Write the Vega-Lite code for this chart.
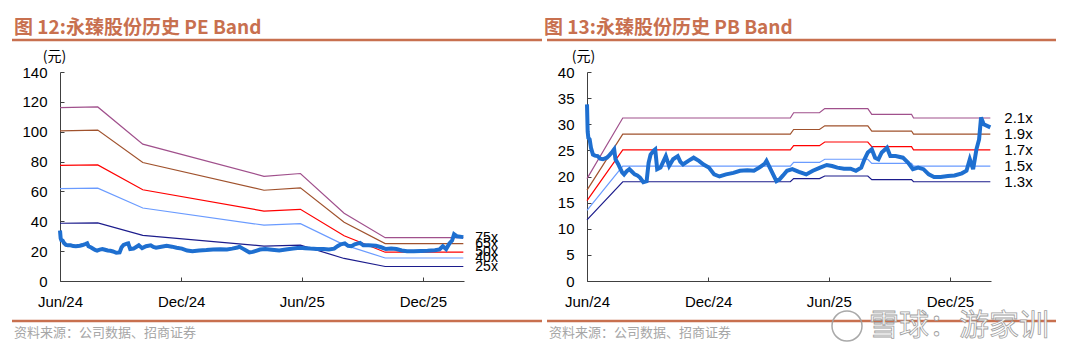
{
"$schema": "https://vega.github.io/schema/vega-lite/v6.json",
"padding": {"left": 10, "top": 18, "right": 0, "bottom": 0},
"spacing": 0,
"config": {
  "view": {"stroke": null},
  "font": "Liberation Sans",
  "axis": {"grid": false, "domainColor": "#404040", "tickColor": "#404040", "labelColor": "#000000", "labelFontSize": 15, "labelFont": "Liberation Sans", "domainWidth": 1, "tickWidth": 1, "labelOverlap": false}
},
"datasets": {
  "price": [
    {"date": "2024/06/01", "value": 33.8}, {"date": "2024/06/02", "value": 28.6}, {"date": "2024/06/03", "value": 27.4},
    {"date": "2024/06/05", "value": 27.1}, {"date": "2024/06/07", "value": 25.5}, {"date": "2024/06/10", "value": 24.2},
    {"date": "2024/06/13", "value": 24.0}, {"date": "2024/06/17", "value": 23.9}, {"date": "2024/06/21", "value": 23.4},
    {"date": "2024/06/25", "value": 23.3}, {"date": "2024/07/01", "value": 23.6}, {"date": "2024/07/05", "value": 24.1},
    {"date": "2024/07/09", "value": 24.7}, {"date": "2024/07/12", "value": 25.2}, {"date": "2024/07/14", "value": 23.3},
    {"date": "2024/07/18", "value": 22.4}, {"date": "2024/07/21", "value": 21.6}, {"date": "2024/07/24", "value": 20.8},
    {"date": "2024/07/27", "value": 20.4}, {"date": "2024/07/31", "value": 21.0}, {"date": "2024/08/04", "value": 21.4},
    {"date": "2024/08/08", "value": 20.9}, {"date": "2024/08/12", "value": 20.4}, {"date": "2024/08/16", "value": 20.2},
    {"date": "2024/08/20", "value": 19.8}, {"date": "2024/08/25", "value": 18.9}, {"date": "2024/08/30", "value": 19.1},
    {"date": "2024/09/02", "value": 22.6}, {"date": "2024/09/05", "value": 24.2}, {"date": "2024/09/10", "value": 25.0},
    {"date": "2024/09/12", "value": 25.2}, {"date": "2024/09/15", "value": 21.4}, {"date": "2024/09/20", "value": 21.7},
    {"date": "2024/09/24", "value": 22.8}, {"date": "2024/09/28", "value": 23.9}, {"date": "2024/10/03", "value": 22.0},
    {"date": "2024/10/09", "value": 23.3}, {"date": "2024/10/16", "value": 23.9}, {"date": "2024/10/20", "value": 22.8},
    {"date": "2024/10/24", "value": 22.3}, {"date": "2024/11/01", "value": 23.0}, {"date": "2024/11/09", "value": 23.6},
    {"date": "2024/11/17", "value": 23.0}, {"date": "2024/11/24", "value": 22.3}, {"date": "2024/12/02", "value": 21.7},
    {"date": "2024/12/10", "value": 20.4}, {"date": "2024/12/18", "value": 20.0}, {"date": "2024/12/28", "value": 20.4},
    {"date": "2025/01/08", "value": 20.7}, {"date": "2025/01/18", "value": 21.1}, {"date": "2025/01/29", "value": 21.2},
    {"date": "2025/02/08", "value": 21.1}, {"date": "2025/02/16", "value": 21.7}, {"date": "2025/02/24", "value": 22.4},
    {"date": "2025/02/27", "value": 23.0}, {"date": "2025/03/04", "value": 21.7}, {"date": "2025/03/09", "value": 20.4},
    {"date": "2025/03/14", "value": 19.1}, {"date": "2025/03/19", "value": 19.5}, {"date": "2025/03/24", "value": 20.2},
    {"date": "2025/03/30", "value": 21.1}, {"date": "2025/04/07", "value": 21.4}, {"date": "2025/04/17", "value": 20.9},
    {"date": "2025/04/28", "value": 20.4}, {"date": "2025/05/08", "value": 21.1}, {"date": "2025/05/19", "value": 21.7},
    {"date": "2025/05/29", "value": 22.2}, {"date": "2025/06/06", "value": 22.0}, {"date": "2025/06/14", "value": 21.7},
    {"date": "2025/06/24", "value": 21.5}, {"date": "2025/07/04", "value": 21.5}, {"date": "2025/07/12", "value": 21.1},
    {"date": "2025/07/20", "value": 21.7}, {"date": "2025/07/25", "value": 23.3}, {"date": "2025/07/30", "value": 24.6},
    {"date": "2025/08/05", "value": 25.2}, {"date": "2025/08/10", "value": 23.6}, {"date": "2025/08/15", "value": 23.3},
    {"date": "2025/08/20", "value": 24.6}, {"date": "2025/08/28", "value": 25.5}, {"date": "2025/09/02", "value": 23.9},
    {"date": "2025/09/10", "value": 23.9}, {"date": "2025/09/21", "value": 23.6}, {"date": "2025/09/29", "value": 22.6},
    {"date": "2025/10/06", "value": 21.4}, {"date": "2025/10/14", "value": 21.7}, {"date": "2025/10/22", "value": 21.4},
    {"date": "2025/10/30", "value": 20.4}, {"date": "2025/11/07", "value": 19.9}, {"date": "2025/11/17", "value": 19.9},
    {"date": "2025/11/28", "value": 20.1}, {"date": "2025/12/08", "value": 20.2}, {"date": "2025/12/19", "value": 20.6},
    {"date": "2025/12/26", "value": 21.1}, {"date": "2025/12/31", "value": 23.3}, {"date": "2026/01/05", "value": 21.4},
    {"date": "2026/01/10", "value": 25.2}, {"date": "2026/01/14", "value": 27.1}, {"date": "2026/01/17", "value": 31.3},
    {"date": "2026/01/21", "value": 30.0}, {"date": "2026/01/31", "value": 29.4}
  ]
},
"hconcat": [
  {
    "width": 404, "height": 209,
    "title": {"text": "图 12:永臻股份历史 PE Band", "anchor": "start", "frame": "group", "dx": -46, "offset": 1, "font": "Noto Sans CJK SC", "fontSize": 19, "fontWeight": "bold", "color": "#C8704F"},
    "layer": [
      {
        "data": {"values": [
          {"date": "2024/06/01", "band": "75x", "value": 116.1}, {"date": "2024/07/28", "band": "75x", "value": 116.6}, {"date": "2024/10/04", "band": "75x", "value": 91.7}, {"date": "2025/04/05", "band": "75x", "value": 70.1}, {"date": "2025/05/30", "band": "75x", "value": 72.0}, {"date": "2025/08/04", "band": "75x", "value": 45.4}, {"date": "2025/10/05", "band": "75x", "value": 29.0}, {"date": "2026/01/31", "band": "75x", "value": 29.0},
          {"date": "2024/06/01", "band": "65x", "value": 100.6}, {"date": "2024/07/28", "band": "65x", "value": 101.1}, {"date": "2024/10/04", "band": "65x", "value": 79.4}, {"date": "2025/04/05", "band": "65x", "value": 60.8}, {"date": "2025/05/30", "band": "65x", "value": 62.4}, {"date": "2025/08/04", "band": "65x", "value": 39.3}, {"date": "2025/10/05", "band": "65x", "value": 25.1}, {"date": "2026/01/31", "band": "65x", "value": 25.1},
          {"date": "2024/06/01", "band": "50x", "value": 77.4}, {"date": "2024/07/28", "band": "50x", "value": 77.8}, {"date": "2024/10/04", "band": "50x", "value": 61.1}, {"date": "2025/04/05", "band": "50x", "value": 46.8}, {"date": "2025/05/30", "band": "50x", "value": 48.0}, {"date": "2025/08/04", "band": "50x", "value": 30.3}, {"date": "2025/10/05", "band": "50x", "value": 19.3}, {"date": "2026/01/31", "band": "50x", "value": 19.3},
          {"date": "2024/06/01", "band": "40x", "value": 61.9}, {"date": "2024/07/28", "band": "40x", "value": 62.2}, {"date": "2024/10/04", "band": "40x", "value": 48.9}, {"date": "2025/04/05", "band": "40x", "value": 37.4}, {"date": "2025/05/30", "band": "40x", "value": 38.4}, {"date": "2025/08/04", "band": "40x", "value": 24.2}, {"date": "2025/10/05", "band": "40x", "value": 15.4}, {"date": "2026/01/31", "band": "40x", "value": 15.4},
          {"date": "2024/06/01", "band": "25x", "value": 38.7}, {"date": "2024/07/28", "band": "25x", "value": 38.9}, {"date": "2024/10/04", "band": "25x", "value": 30.6}, {"date": "2025/04/05", "band": "25x", "value": 23.4}, {"date": "2025/05/30", "band": "25x", "value": 24.0}, {"date": "2025/08/04", "band": "25x", "value": 15.1}, {"date": "2025/10/05", "band": "25x", "value": 9.7}, {"date": "2026/01/31", "band": "25x", "value": 9.7}
        ]},
        "mark": {"type": "line", "strokeWidth": 1.2},
        "encoding": {
          "x": {"field": "date", "type": "temporal",
                "scale": {"domain": [{"year": 2024, "month": 6, "date": 1}, {"year": 2026, "month": 2, "date": 1}]},
                "axis": {"title": null, "format": "%b/%y", "values": [{"year": 2024, "month": 6, "date": 1}, {"year": 2024, "month": 12, "date": 1}, {"year": 2025, "month": 6, "date": 1}, {"year": 2025, "month": 12, "date": 1}], "tickCount": 12, "tickSize": -4, "labelPadding": 17, "labelFlush": false, "labelOverlap": false}},
          "y": {"field": "value", "type": "quantitative",
                "scale": {"domain": [0, 140], "nice": false},
                "axis": {"values": [0, 20, 40, 60, 80, 100, 120, 140], "tickCount": 12, "tickSize": -4, "labelPadding": 17, "labelOverlap": false, "labelFontSize": 15,
                         "title": "(元)", "titleAngle": 0, "titleX": -6, "titleY": -16, "titleAlign": "center", "titleBaseline": "middle", "titleFont": "Noto Sans CJK SC", "titleFontSize": 14, "titleFontWeight": "normal", "titleColor": "#000000"}},
          "color": {"field": "band", "type": "nominal", "legend": null,
                    "scale": {"domain": ["75x", "65x", "50x", "40x", "25x"], "range": ["#A0508C", "#A0522D", "#FF0000", "#6A9BFF", "#1C1C8C"]}}
        }
      },
      {
        "data": {"name": "price"},
        "mark": {"type": "line", "color": "#1E6FD0", "strokeWidth": 4},
        "encoding": {"x": {"field": "date", "type": "temporal"}, "y": {"field": "value", "type": "quantitative"}}
      },
      {
        "data": {"values": [
          {"date": "2026/01/31", "value": 29.0, "label": "75x"}, {"date": "2026/01/31", "value": 25.1, "label": "65x"},
          {"date": "2026/01/31", "value": 19.3, "label": "50x"}, {"date": "2026/01/31", "value": 15.4, "label": "40x"},
          {"date": "2026/01/31", "value": 9.7, "label": "25x"}
        ]},
        "mark": {"type": "text", "align": "left", "baseline": "middle", "dx": 12, "fontSize": 14, "font": "Liberation Sans", "color": "#000000"},
        "encoding": {"x": {"field": "date", "type": "temporal"}, "y": {"field": "value", "type": "quantitative"}, "text": {"field": "label"}}
      },
      {
        "data": {"values": [{}]},
        "mark": {"type": "rule", "color": "#C8704F", "strokeWidth": 2.5},
        "encoding": {"x": {"value": -48}, "x2": {"value": 482}, "y": {"value": -32}}
      },
      {
        "data": {"values": [{}]},
        "mark": {"type": "rule", "color": "#C8704F", "strokeWidth": 2.5},
        "encoding": {"x": {"value": -48}, "x2": {"value": 482}, "y": {"value": 249}}
      },
      {
        "data": {"values": [{}]},
        "mark": {"type": "text", "align": "left", "baseline": "middle", "fontSize": 13, "font": "Noto Sans CJK SC", "color": "#A6A6A6"},
        "encoding": {"x": {"value": -46}, "y": {"value": 261}, "text": {"value": "资料来源：公司数据、招商证券"}}
      }
    ]
  },
  {
    "width": 404, "height": 209,
    "title": {"text": "图 13:永臻股份历史 PB Band", "anchor": "start", "frame": "group", "dx": -43, "offset": 1, "font": "Noto Sans CJK SC", "fontSize": 19, "fontWeight": "bold", "color": "#C8704F"},
    "layer": [
      {
        "data": {"values": [
          {"date": "2024/06/01", "band": "2.1x", "value": 19.6}, {"date": "2024/07/25", "band": "2.1x", "value": 31.2}, {"date": "2025/04/04", "band": "2.1x", "value": 31.2}, {"date": "2025/04/09", "band": "2.1x", "value": 32.2}, {"date": "2025/05/18", "band": "2.1x", "value": 32.2}, {"date": "2025/05/26", "band": "2.1x", "value": 33.0}, {"date": "2025/07/30", "band": "2.1x", "value": 33.0}, {"date": "2025/08/05", "band": "2.1x", "value": 31.9}, {"date": "2025/10/04", "band": "2.1x", "value": 31.9}, {"date": "2025/10/07", "band": "2.1x", "value": 31.2}, {"date": "2026/01/31", "band": "2.1x", "value": 31.2},
          {"date": "2024/06/01", "band": "1.9x", "value": 17.4}, {"date": "2024/07/25", "band": "1.9x", "value": 28.1}, {"date": "2025/04/04", "band": "1.9x", "value": 28.1}, {"date": "2025/04/09", "band": "1.9x", "value": 29.0}, {"date": "2025/05/18", "band": "1.9x", "value": 29.0}, {"date": "2025/05/26", "band": "1.9x", "value": 29.7}, {"date": "2025/07/30", "band": "1.9x", "value": 29.7}, {"date": "2025/08/05", "band": "1.9x", "value": 28.7}, {"date": "2025/10/04", "band": "1.9x", "value": 28.7}, {"date": "2025/10/07", "band": "1.9x", "value": 28.1}, {"date": "2026/01/31", "band": "1.9x", "value": 28.1},
          {"date": "2024/06/01", "band": "1.7x", "value": 15.4}, {"date": "2024/07/25", "band": "1.7x", "value": 25.1}, {"date": "2025/04/04", "band": "1.7x", "value": 25.1}, {"date": "2025/04/09", "band": "1.7x", "value": 25.9}, {"date": "2025/05/18", "band": "1.7x", "value": 25.9}, {"date": "2025/05/26", "band": "1.7x", "value": 26.6}, {"date": "2025/07/30", "band": "1.7x", "value": 26.6}, {"date": "2025/08/05", "band": "1.7x", "value": 25.7}, {"date": "2025/10/04", "band": "1.7x", "value": 25.7}, {"date": "2025/10/07", "band": "1.7x", "value": 25.1}, {"date": "2026/01/31", "band": "1.7x", "value": 25.1},
          {"date": "2024/06/01", "band": "1.5x", "value": 13.5}, {"date": "2024/07/25", "band": "1.5x", "value": 22.0}, {"date": "2025/04/04", "band": "1.5x", "value": 22.0}, {"date": "2025/04/09", "band": "1.5x", "value": 22.7}, {"date": "2025/05/18", "band": "1.5x", "value": 22.7}, {"date": "2025/05/26", "band": "1.5x", "value": 23.3}, {"date": "2025/07/30", "band": "1.5x", "value": 23.3}, {"date": "2025/08/05", "band": "1.5x", "value": 22.5}, {"date": "2025/10/04", "band": "1.5x", "value": 22.5}, {"date": "2025/10/07", "band": "1.5x", "value": 22.0}, {"date": "2026/01/31", "band": "1.5x", "value": 22.0},
          {"date": "2024/06/01", "band": "1.3x", "value": 11.7}, {"date": "2024/07/25", "band": "1.3x", "value": 19.0}, {"date": "2025/04/04", "band": "1.3x", "value": 19.0}, {"date": "2025/04/09", "band": "1.3x", "value": 19.6}, {"date": "2025/05/18", "band": "1.3x", "value": 19.6}, {"date": "2025/05/26", "band": "1.3x", "value": 20.1}, {"date": "2025/07/30", "band": "1.3x", "value": 20.1}, {"date": "2025/08/05", "band": "1.3x", "value": 19.4}, {"date": "2025/10/04", "band": "1.3x", "value": 19.4}, {"date": "2025/10/07", "band": "1.3x", "value": 19.0}, {"date": "2026/01/31", "band": "1.3x", "value": 19.0}
        ]},
        "mark": {"type": "line", "strokeWidth": 1.2},
        "encoding": {
          "x": {"field": "date", "type": "temporal",
                "scale": {"domain": [{"year": 2024, "month": 6, "date": 1}, {"year": 2026, "month": 2, "date": 1}]},
                "axis": {"title": null, "format": "%b/%y", "values": [{"year": 2024, "month": 6, "date": 1}, {"year": 2024, "month": 12, "date": 1}, {"year": 2025, "month": 6, "date": 1}, {"year": 2025, "month": 12, "date": 1}], "tickCount": 12, "tickSize": -4, "labelPadding": 17, "labelFlush": false, "labelOverlap": false}},
          "y": {"field": "value", "type": "quantitative",
                "scale": {"domain": [0, 40], "nice": false},
                "axis": {"values": [0, 5, 10, 15, 20, 25, 30, 35, 40], "tickCount": 12, "tickSize": -4, "labelPadding": 17, "labelOverlap": false, "labelFontSize": 15,
                         "title": "(元)", "titleAngle": 0, "titleX": -4, "titleY": -16, "titleAlign": "center", "titleBaseline": "middle", "titleFont": "Noto Sans CJK SC", "titleFontSize": 14, "titleFontWeight": "normal", "titleColor": "#000000"}},
          "color": {"field": "band", "type": "nominal", "legend": null,
                    "scale": {"domain": ["2.1x", "1.9x", "1.7x", "1.5x", "1.3x"], "range": ["#A0508C", "#A0522D", "#FF0000", "#6A9BFF", "#1C1C8C"]}}
        }
      },
      {
        "data": {"name": "price"},
        "mark": {"type": "line", "color": "#1E6FD0", "strokeWidth": 4},
        "encoding": {"x": {"field": "date", "type": "temporal"}, "y": {"field": "value", "type": "quantitative"}}
      },
      {
        "data": {"values": [
          {"date": "2026/01/31", "value": 31.2, "label": "2.1x"}, {"date": "2026/01/31", "value": 28.1, "label": "1.9x"},
          {"date": "2026/01/31", "value": 25.1, "label": "1.7x"}, {"date": "2026/01/31", "value": 22.0, "label": "1.5x"},
          {"date": "2026/01/31", "value": 19.0, "label": "1.3x"}
        ]},
        "mark": {"type": "text", "align": "left", "baseline": "middle", "dx": 14, "fontSize": 15, "font": "Liberation Sans", "color": "#000000"},
        "encoding": {"x": {"field": "date", "type": "temporal"}, "y": {"field": "value", "type": "quantitative"}, "text": {"field": "label"}}
      },
      {
        "data": {"values": [{}]},
        "mark": {"type": "rule", "color": "#C8704F", "strokeWidth": 2.5},
        "encoding": {"x": {"value": -40}, "x2": {"value": 469}, "y": {"value": -32}}
      },
      {
        "data": {"values": [{}]},
        "mark": {"type": "rule", "color": "#C8704F", "strokeWidth": 2.5},
        "encoding": {"x": {"value": -40}, "x2": {"value": 469}, "y": {"value": 249}}
      },
      {
        "data": {"values": [{}]},
        "mark": {"type": "text", "align": "left", "baseline": "middle", "fontSize": 13, "font": "Noto Sans CJK SC", "color": "#A6A6A6"},
        "encoding": {"x": {"value": -38}, "y": {"value": 261}, "text": {"value": "资料来源：公司数据、招商证券"}}
      },
      {
        "data": {"values": [{}]},
        "mark": {"type": "point", "shape": "circle", "filled": false, "size": 900, "stroke": "#A0A0A0", "strokeWidth": 1.5, "opacity": 0.9},
        "encoding": {"x": {"value": 260}, "y": {"value": 254}}
      },
      {
        "data": {"values": [{}]},
        "mark": {"type": "text", "align": "left", "baseline": "middle", "fontSize": 30, "font": "Noto Sans CJK SC", "fill": "#FFFFFF", "stroke": "#9A9A9A", "strokeWidth": 0.8, "opacity": 0.95},
        "encoding": {"x": {"value": 282}, "y": {"value": 254}, "text": {"value": "雪球：游家训"}}
      }
    ]
  }
]
}
